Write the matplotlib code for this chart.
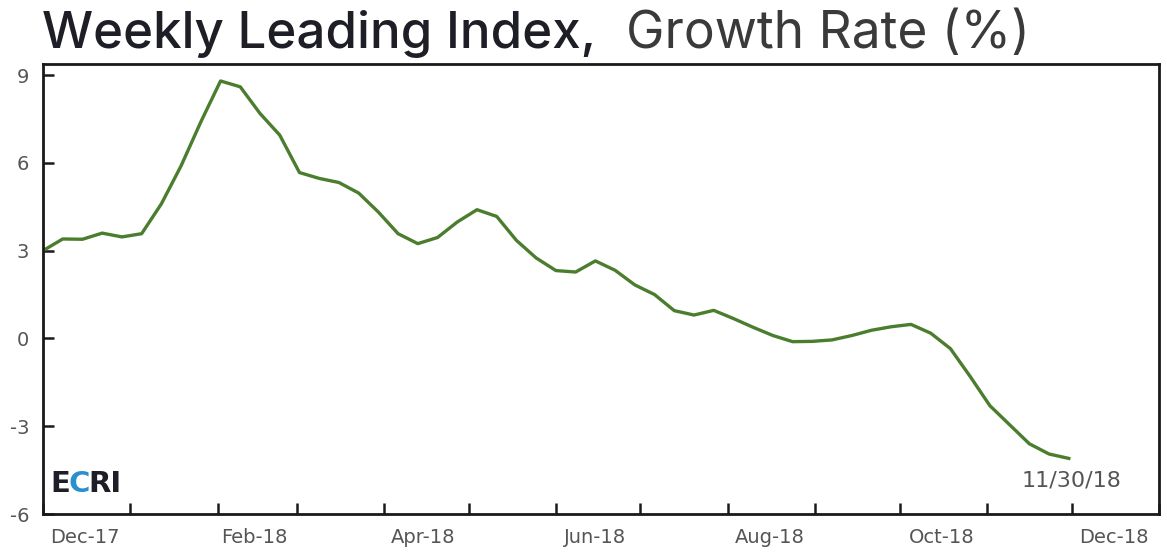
import matplotlib
matplotlib.use("Agg")
import matplotlib.pyplot as plt
import matplotlib.dates as mdates
import numpy as np
import pandas as pd

# ---- data ----
start_date = "2017-12-01"
end_date = "2018-11-30"
growth_rate = [3.00, 3.40, 3.39, 3.60, 3.47, 3.58, 4.60, 5.90, 7.40, 8.80,
               8.60, 7.69, 6.95, 5.67, 5.47, 5.33, 4.97, 4.32, 3.58, 3.24,
               3.45, 3.98, 4.40, 4.17, 3.35, 2.75, 2.32, 2.27, 2.65, 2.33,
               1.83, 1.50, 0.95, 0.80, 0.96, 0.68, 0.38, 0.10, -0.11, -0.10,
               -0.05, 0.10, 0.28, 0.40, 0.48, 0.18, -0.35, -1.30, -2.30, -2.95,
               -3.60, -3.95, -4.10]
yticks = [-6, -3, 0, 3, 6, 9]
xtick_labels = ["Dec-17", "Feb-18", "Apr-18", "Jun-18", "Aug-18", "Oct-18", "Dec-18"]
title_bold = "Weekly Leading Index,"
title_light = "Growth Rate (%)"
end_label = "11/30/18"

dates = pd.date_range(start_date, end_date, freq="7D")

W, H = 1167, 556
fig = plt.figure(figsize=(W / 100, H / 100), dpi=100)
fig.patch.set_facecolor("white")
ax = fig.add_axes([43 / W, 1 - 514 / H, (1159 - 43) / W, (514 - 64) / H])

ax.plot(dates, growth_rate, color="#4b7d2e", lw=2.4, solid_joinstyle="round")

ax.set_xlim(pd.Timestamp("2017-12-01"), pd.Timestamp("2019-01-01"))
ax.set_ylim(-6, 9.38)

for s in ax.spines.values():
    s.set_color("#1a1a1a")
    s.set_linewidth(2.0)

ax.set_yticks(yticks)
ax.set_yticklabels([str(v) for v in yticks])
ax.tick_params(axis="y", direction="in", length=8, width=1.8, color="#1a1a1a",
               labelsize=14, labelcolor="#555555", pad=10)

# monthly tick marks (no label), labels centred in every second month
ax.xaxis.set_major_locator(mdates.MonthLocator())
ax.xaxis.set_major_formatter(plt.NullFormatter())
label_pos = [pd.Timestamp(d) for d in ["2017-12-16", "2018-02-14", "2018-04-15",
                                        "2018-06-15", "2018-08-16", "2018-10-16",
                                        "2018-12-16"]]
ax.xaxis.set_minor_locator(matplotlib.ticker.FixedLocator(mdates.date2num(label_pos)))
ax.xaxis.set_minor_formatter(matplotlib.ticker.FixedFormatter(xtick_labels))
ax.tick_params(axis="x", which="major", direction="in", length=8, width=1.8,
               color="#1a1a1a")
ax.tick_params(axis="x", which="minor", length=0, labelsize=14,
               labelcolor="#555555", pad=10)

fig.canvas.draw()
r = fig.canvas.get_renderer()
axw = ax.get_window_extent(renderer=r).width

# ECRI logo
logo_x = 0.0065
parts = [("E", "#1e1e28"), ("C", "#2a8fd0"), ("RI", "#1e1e28")]
for txt, col in parts:
    t = ax.text(logo_x, 0.035, txt, transform=ax.transAxes, fontsize=21,
                fontweight="bold", color=col, ha="left", va="bottom",
                family="DejaVu Sans")
    bb = t.get_window_extent(renderer=r)
    logo_x += bb.width / axw - 0.0015

# end date annotation
ax.text(pd.Timestamp("2018-12-01"), -4.86, end_label, fontsize=16, color="#555555",
        ha="center", va="center")

# title, sized so the two parts span the same width as the reference
def fit_text(x0, x1_target, s, weight, color):
    t = fig.text(x0 / W, 1 - 48 / H, s, fontsize=30, fontweight=weight,
                 color=color, ha="left", va="baseline", family="Inter")
    fig.canvas.draw()
    w = t.get_window_extent(renderer=fig.canvas.get_renderer()).width
    t.set_fontsize(30 * (x1_target - x0) / w)
    return t

fit_text(42, 596, title_bold, "medium", "#1e1e26")
fit_text(626, 1030, title_light, "normal", "#3a3a3a")

fig.savefig("out.png", dpi=100, facecolor="white")
